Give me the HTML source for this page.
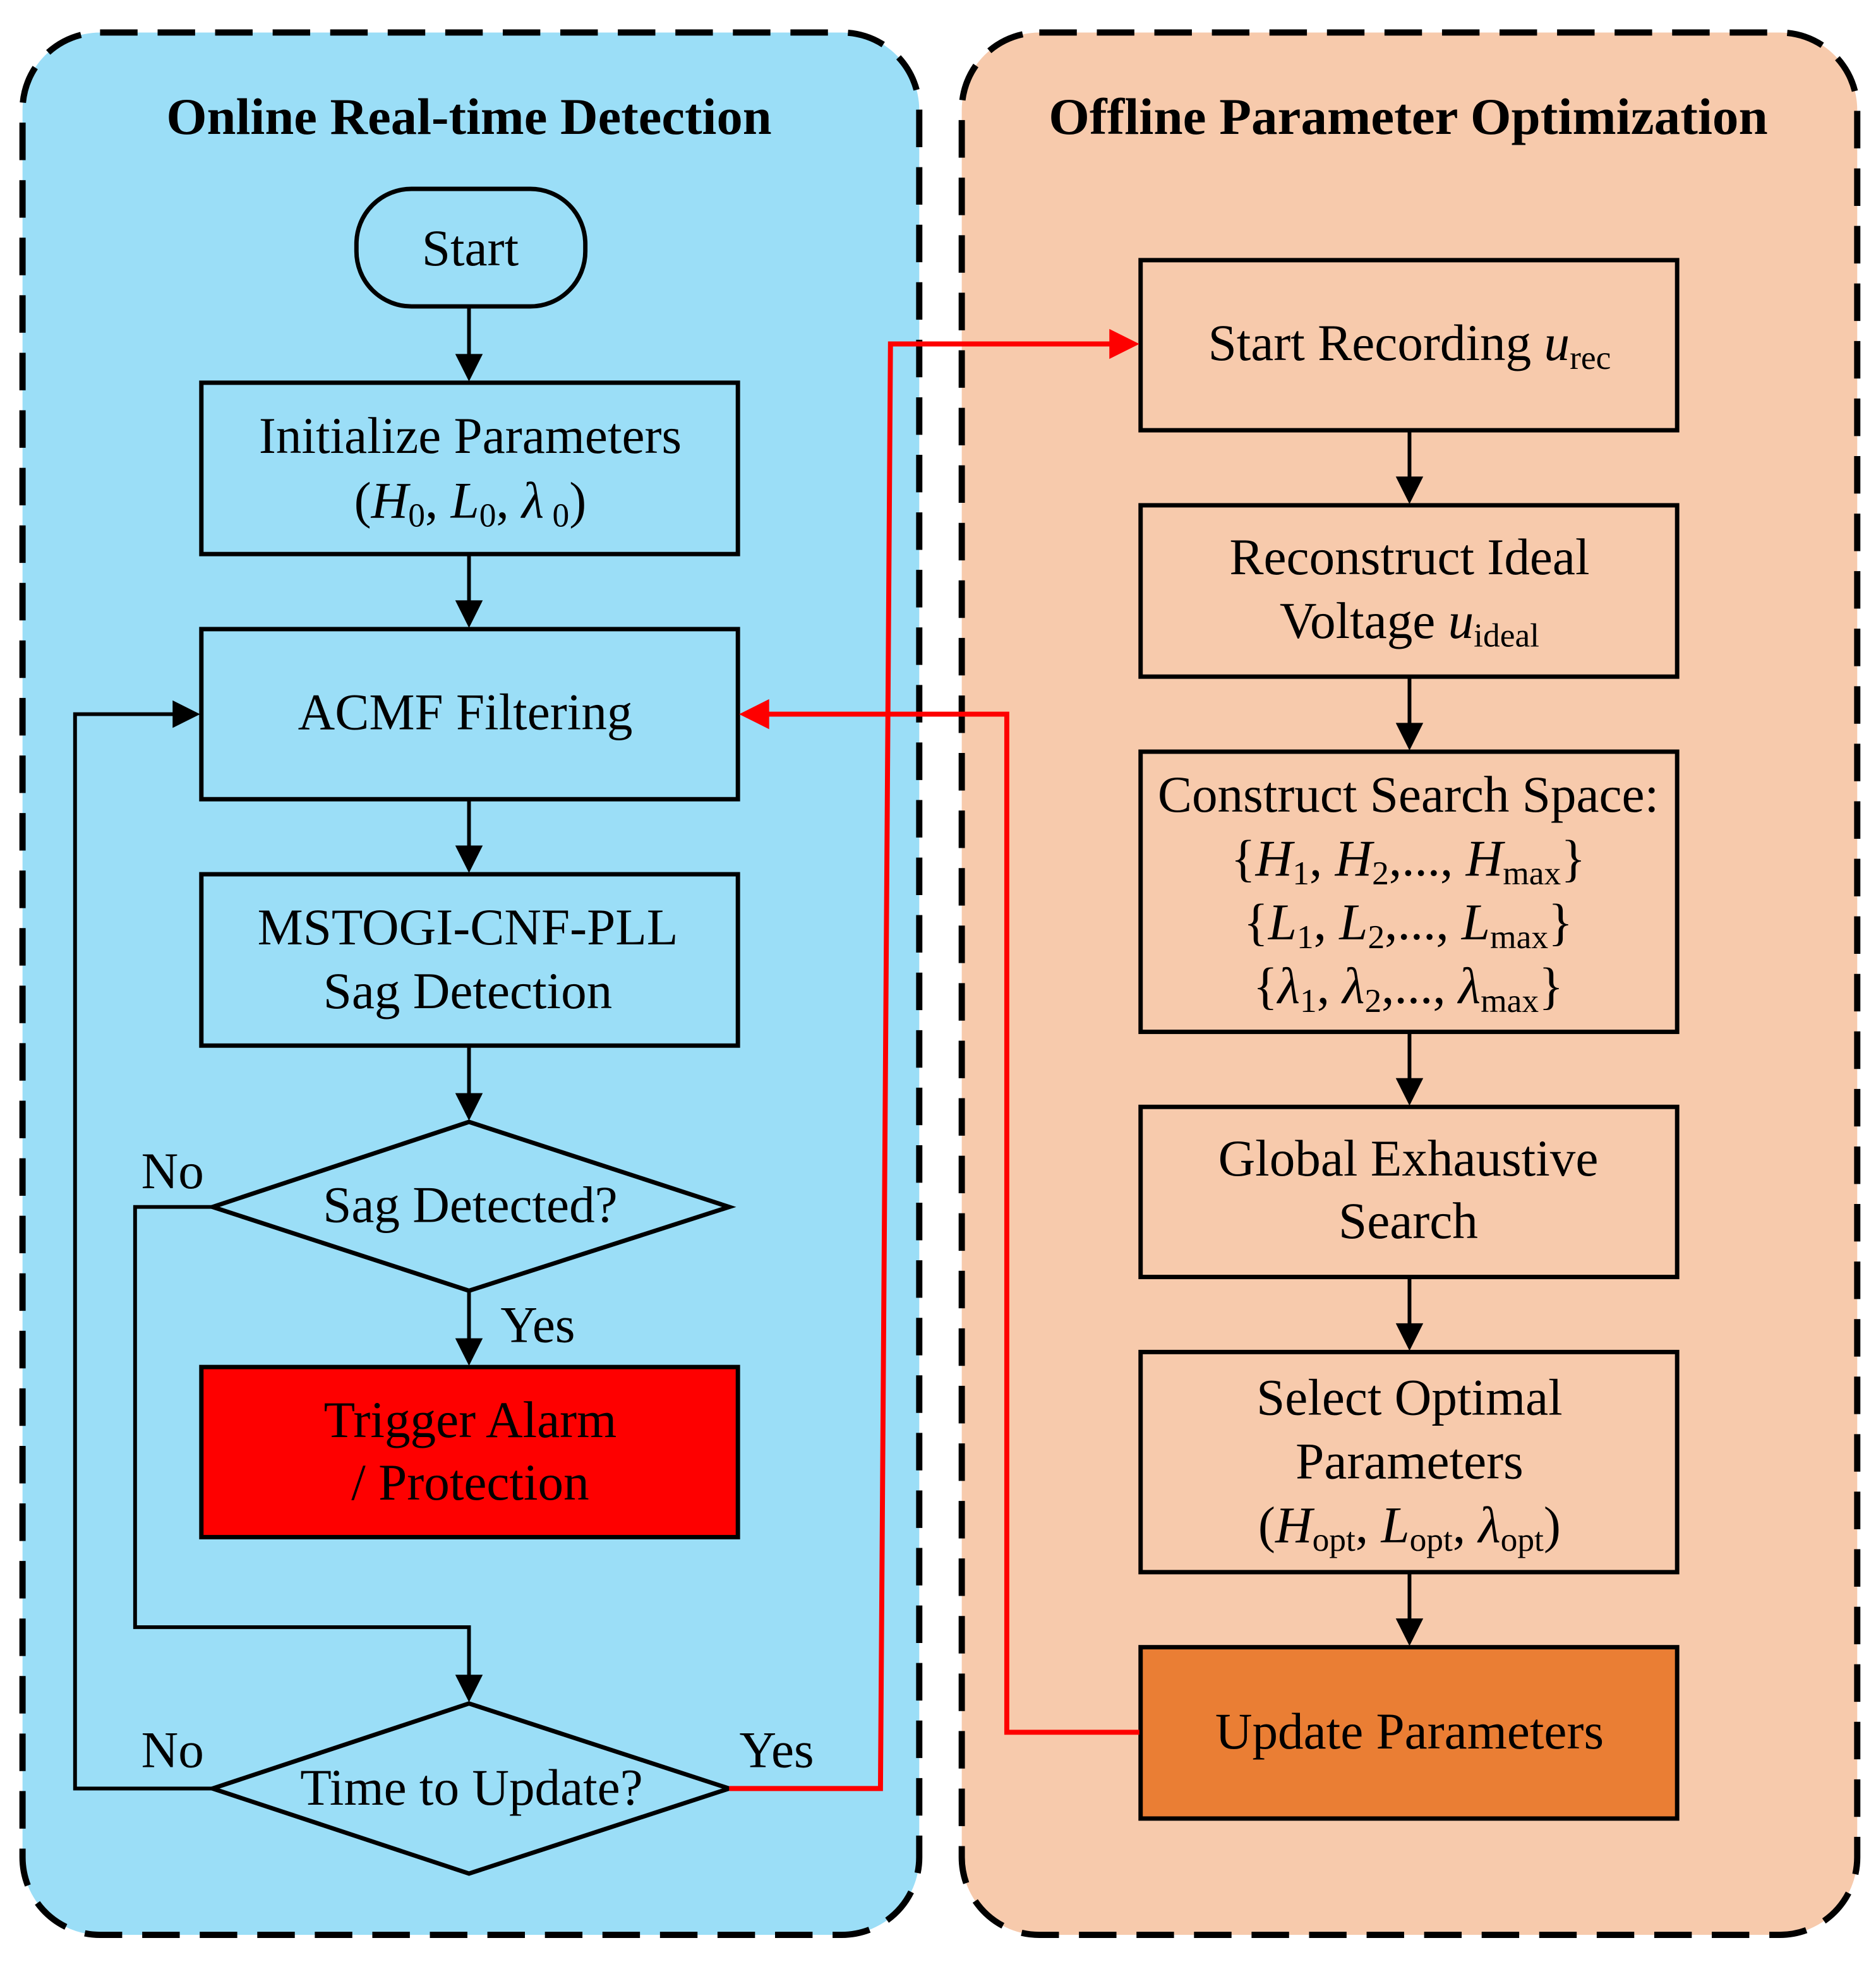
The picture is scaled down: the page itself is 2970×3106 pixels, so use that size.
<!DOCTYPE html>
<html><head><meta charset="utf-8"><style>html,body{margin:0;padding:0;background:#fff}svg{display:block}</style></head>
<body>
<svg width="2970" height="3106" viewBox="0 0 1500 1568.7" xmlns="http://www.w3.org/2000/svg" font-family="Liberation Serif, serif">
<!-- panels -->
<rect x="18" y="26" width="717" height="1521" rx="62" fill="#9BDEF7" stroke="#000" stroke-width="5" stroke-dasharray="30,16"/>
<rect x="769" y="26" width="716" height="1521" rx="62" fill="#F7CAAC" stroke="#000" stroke-width="5" stroke-dasharray="30,16"/>
<text x="375" y="107" text-anchor="middle" font-weight="bold" font-size="41" textLength="484" lengthAdjust="spacingAndGlyphs">Online Real-time Detection</text>
<text x="1126" y="107" text-anchor="middle" font-weight="bold" font-size="41" textLength="575" lengthAdjust="spacingAndGlyphs">Offline Parameter Optimization</text>

<g stroke="#000" stroke-width="3.5" fill="none">
<rect x="285" y="151" width="183" height="94" rx="44"/>
<rect x="161" y="306" width="429" height="137"/>
<rect x="161" y="503" width="429" height="136"/>
<rect x="161" y="699" width="429" height="137"/>
<polygon points="375,897 583,965 375,1032 170,965"/>
<rect x="161" y="1093" width="429" height="136" fill="#FE0000"/>
<polygon points="375,1362 583,1430 375,1498 170,1430"/>
<rect x="912" y="208" width="429" height="136"/>
<rect x="912" y="404" width="429" height="137"/>
<rect x="912" y="601" width="429" height="224"/>
<rect x="912" y="885" width="429" height="136"/>
<rect x="912" y="1081" width="429" height="176"/>
<rect x="912" y="1317" width="429" height="137" fill="#EA7E34"/>
</g>

<g stroke="#000" stroke-width="3" fill="none">
<path d="M375,245 V290"/><path d="M375,443 V486"/><path d="M375,639 V682"/><path d="M375,836 V880"/><path d="M375,1032 V1076"/>
<path d="M170,965 H108 V1301 H375 V1345"/>
<path d="M170,1430 H60 V571 H143"/>
<path d="M1127,344 V388"/><path d="M1127,541 V585"/><path d="M1127,825 V869"/><path d="M1127,1021 V1065"/><path d="M1127,1257 V1301"/>
</g>
<g fill="#000">
<path d="M375,305 l-11,-22 h22z"/><path d="M375,502 l-11,-22 h22z"/><path d="M375,698 l-11,-22 h22z"/><path d="M375,896 l-11,-22 h22z"/><path d="M375,1092 l-11,-22 h22z"/><path d="M375,1361 l-11,-22 h22z"/>
<path d="M160,571 l-22,-11 v22z"/>
<path d="M1127,403 l-11,-22 h22z"/><path d="M1127,600 l-11,-22 h22z"/><path d="M1127,884 l-11,-22 h22z"/><path d="M1127,1080 l-11,-22 h22z"/><path d="M1127,1316 l-11,-22 h22z"/>
</g>
<g stroke="#FE0000" stroke-width="4" fill="none">
<path d="M583,1430 H704 L712,275 H888"/>
<path d="M911,1385 H805 V571 H612"/>
</g>
<g fill="#FE0000">
<path d="M911,275 l-24,-12 v24z"/>
<path d="M591,571 l24,-12 v24z"/>
</g>

<g font-size="41" text-anchor="middle" fill="#000">
<text x="376" y="212">Start</text>
<text x="376" y="362">Initialize Parameters</text>
<text x="376" y="414">(<tspan font-style="italic">H</tspan><tspan font-size="27" dy="7">0</tspan><tspan dy="-7">, </tspan><tspan font-style="italic">L</tspan><tspan font-size="27" dy="7">0</tspan><tspan dy="-7">, </tspan><tspan font-style="italic">λ</tspan><tspan font-size="27" dy="7"> 0</tspan><tspan dy="-7">)</tspan></text>
<text x="372" y="583">ACMF Filtering</text>
<text x="374" y="755">MSTOGI-CNF-PLL</text>
<text x="374" y="806">Sag Detection</text>
<text x="376" y="977">Sag Detected?</text>
<text x="376" y="1149">Trigger Alarm</text>
<text x="376" y="1199">/ Protection</text>
<text x="377" y="1443">Time to Update?</text>
<text x="138" y="950">No</text>
<text x="430" y="1073">Yes</text>
<text x="138" y="1413">No</text>
<text x="621" y="1413">Yes</text>

<text x="1127" y="288">Start Recording <tspan font-style="italic">u</tspan><tspan font-size="27" dy="7">rec</tspan></text>
<text x="1127" y="459">Reconstruct Ideal</text>
<text x="1127" y="510">Voltage <tspan font-style="italic">u</tspan><tspan font-size="27" dy="7">ideal</tspan></text>
<text x="1126" y="649">Construct Search Space:</text>
<text x="1126" y="700">{<tspan font-style="italic">H</tspan><tspan font-size="27" dy="7">1</tspan><tspan dy="-7">, </tspan><tspan font-style="italic">H</tspan><tspan font-size="27" dy="7">2</tspan><tspan dy="-7">,..., </tspan><tspan font-style="italic">H</tspan><tspan font-size="27" dy="7">max</tspan><tspan dy="-7">}</tspan></text>
<text x="1126" y="751">{<tspan font-style="italic">L</tspan><tspan font-size="27" dy="7">1</tspan><tspan dy="-7">, </tspan><tspan font-style="italic">L</tspan><tspan font-size="27" dy="7">2</tspan><tspan dy="-7">,..., </tspan><tspan font-style="italic">L</tspan><tspan font-size="27" dy="7">max</tspan><tspan dy="-7">}</tspan></text>
<text x="1126" y="802">{<tspan font-style="italic">λ</tspan><tspan font-size="27" dy="7">1</tspan><tspan dy="-7">, </tspan><tspan font-style="italic">λ</tspan><tspan font-size="27" dy="7">2</tspan><tspan dy="-7">,..., </tspan><tspan font-style="italic">λ</tspan><tspan font-size="27" dy="7">max</tspan><tspan dy="-7">}</tspan></text>
<text x="1126" y="940">Global Exhaustive</text>
<text x="1126" y="990">Search</text>
<text x="1127" y="1131">Select Optimal</text>
<text x="1127" y="1182">Parameters</text>
<text x="1127" y="1233">(<tspan font-style="italic">H</tspan><tspan font-size="27" dy="7">opt</tspan><tspan dy="-7">, </tspan><tspan font-style="italic">L</tspan><tspan font-size="27" dy="7">opt</tspan><tspan dy="-7">, </tspan><tspan font-style="italic">λ</tspan><tspan font-size="27" dy="7">opt</tspan><tspan dy="-7">)</tspan></text>
<text x="1127" y="1398">Update Parameters</text>
</g>
</svg>
</body></html>
